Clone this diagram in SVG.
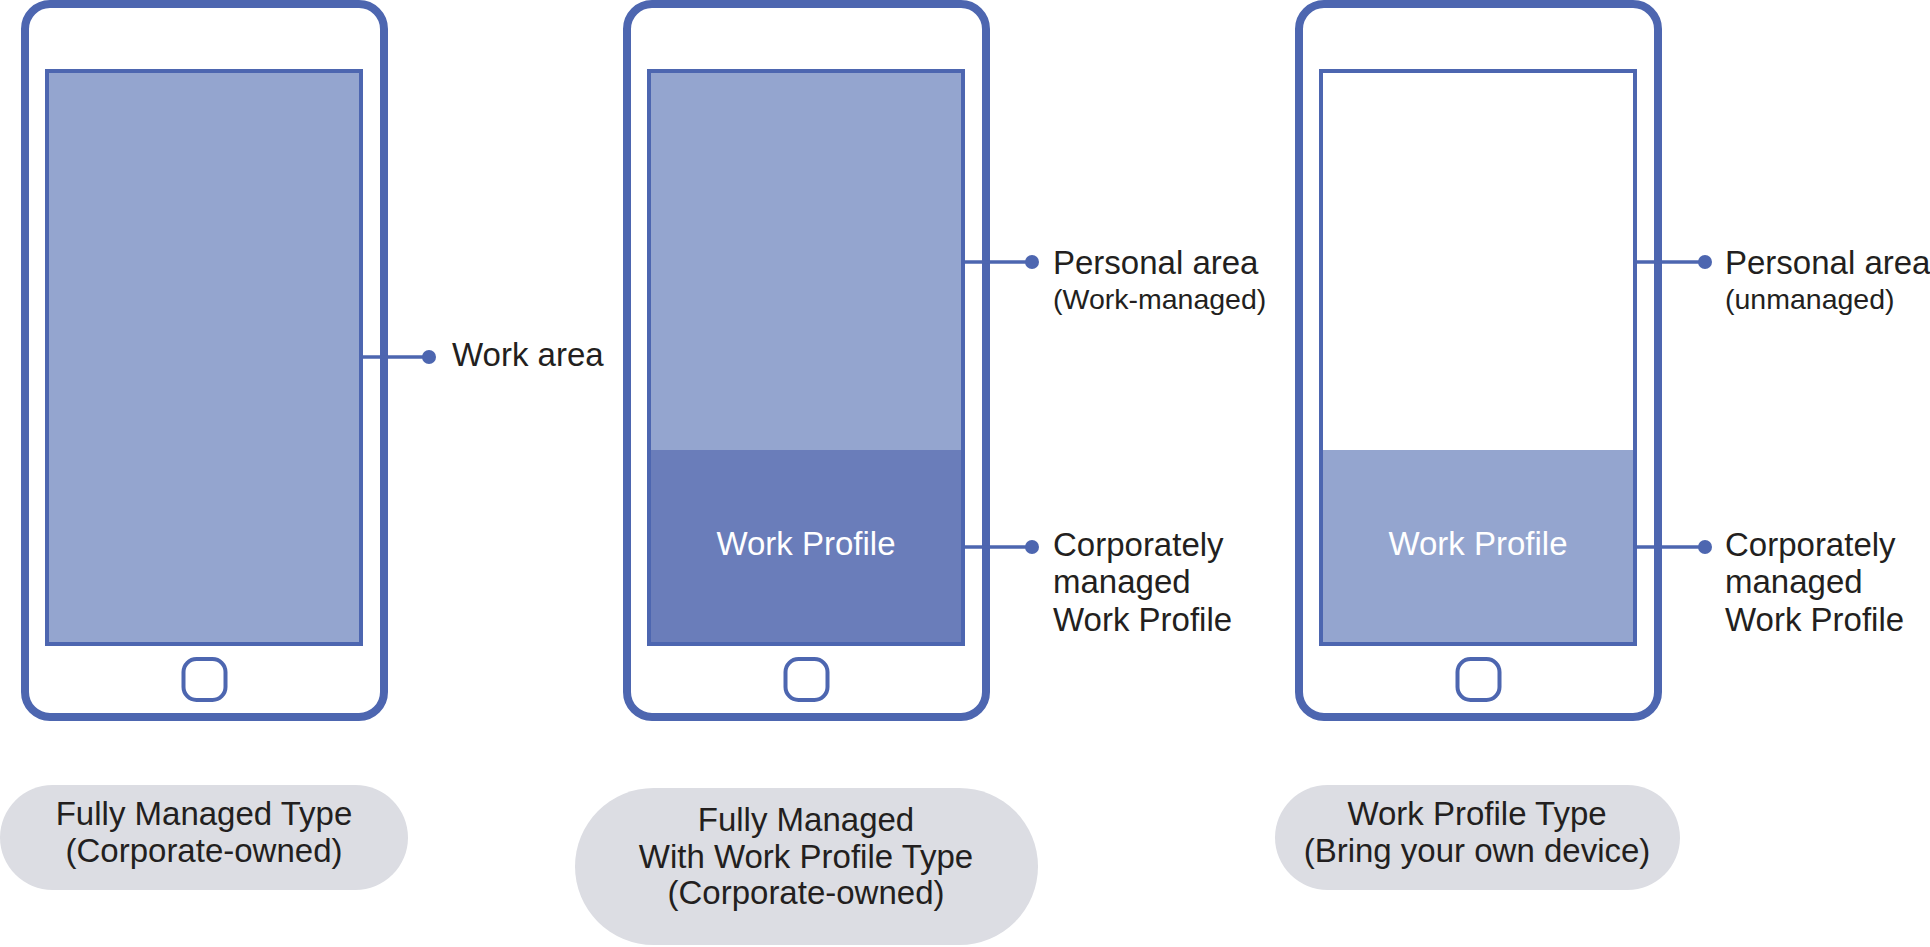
<svg xmlns="http://www.w3.org/2000/svg" width="1930" height="947" viewBox="0 0 1930 947">
<style>
.phone{fill:#fff;stroke:#4d66b0;stroke-width:8}
.screen{stroke:#4d66b0;stroke-width:4}
.light{fill:#94a5cf}
.dark{fill:#6a7dba}
.btn{fill:none;stroke:#4d66b0;stroke-width:4}
.conn{stroke:#4d66b0;stroke-width:3.5;fill:none}
.dot{fill:#4d66b0}
.t{font-family:"Liberation Sans",Arial,sans-serif;font-size:33px;fill:#231f20}
.s{font-family:"Liberation Sans",Arial,sans-serif;font-size:28.5px;fill:#231f20}
.w{font-family:"Liberation Sans",Arial,sans-serif;font-size:33px;fill:#fff;text-anchor:middle}
.pill{fill:#dcdde3}
.pt{font-family:"Liberation Sans",Arial,sans-serif;font-size:33px;fill:#231f20;text-anchor:middle}
</style>
<g id="phone1">
<rect class="phone" x="25" y="4" width="359" height="713" rx="25"/>
<rect class="screen light" x="47" y="71" width="314" height="573"/>
<rect class="btn" x="183.5" y="659" width="42" height="41" rx="13"/>
</g>
<g id="phone2">
<rect class="phone" x="627" y="4" width="359" height="713" rx="25"/>
<rect class="light" x="649" y="71" width="314" height="379"/>
<rect class="dark" x="649" y="450" width="314" height="194"/>
<rect class="screen" fill="none" x="649" y="71" width="314" height="573"/>
<text class="w" x="806" y="555">Work Profile</text>
<rect class="btn" x="785.5" y="659" width="42" height="41" rx="13"/>
</g>
<g id="phone3">
<rect class="phone" x="1299" y="4" width="359" height="713" rx="25"/>
<rect class="light" x="1321" y="450" width="314" height="194"/>
<rect class="screen" fill="none" x="1321" y="71" width="314" height="573"/>
<text class="w" x="1478" y="555">Work Profile</text>
<rect class="btn" x="1457.5" y="659" width="42" height="41" rx="13"/>
</g>
<g id="connectors">
<line class="conn" x1="361" y1="357" x2="429" y2="357"/>
<circle class="dot" cx="429" cy="357" r="7"/>
<line class="conn" x1="963" y1="262" x2="1032" y2="262"/>
<circle class="dot" cx="1032" cy="262" r="7"/>
<line class="conn" x1="963" y1="547" x2="1032" y2="547"/>
<circle class="dot" cx="1032" cy="547" r="7"/>
<line class="conn" x1="1635" y1="262" x2="1705" y2="262"/>
<circle class="dot" cx="1705" cy="262" r="7"/>
<line class="conn" x1="1635" y1="547" x2="1705" y2="547"/>
<circle class="dot" cx="1705" cy="547" r="7"/>
</g>
<g id="label-work-area"><text class="t" x="452" y="366">Work area</text></g>
<g id="label-personal2">
<text class="t" x="1053" y="274">Personal area</text>
<text class="s" x="1053" y="309">(Work-managed)</text>
</g>
<g id="label-corp2">
<text class="t" x="1053" y="556">Corporately</text>
<text class="t" x="1053" y="593">managed</text>
<text class="t" x="1053" y="631">Work Profile</text>
</g>
<g id="label-personal3">
<text class="t" x="1725" y="274">Personal area</text>
<text class="s" x="1725" y="309">(unmanaged)</text>
</g>
<g id="label-corp3">
<text class="t" x="1725" y="556">Corporately</text>
<text class="t" x="1725" y="593">managed</text>
<text class="t" x="1725" y="631">Work Profile</text>
</g>
<g id="pill1">
<rect class="pill" x="0" y="785" width="408" height="105" rx="52.5"/>
<text class="pt" x="204" y="825">Fully Managed Type</text>
<text class="pt" x="204" y="862">(Corporate-owned)</text>
</g>
<g id="pill2">
<rect class="pill" x="575" y="788" width="463" height="157" rx="78.5"/>
<text class="pt" x="806" y="831">Fully Managed</text>
<text class="pt" x="806" y="868">With Work Profile Type</text>
<text class="pt" x="806" y="904">(Corporate-owned)</text>
</g>
<g id="pill3">
<rect class="pill" x="1275" y="785" width="405" height="105" rx="52.5"/>
<text class="pt" x="1477" y="825">Work Profile Type</text>
<text class="pt" x="1477" y="862">(Bring your own device)</text>
</g>
</svg>
